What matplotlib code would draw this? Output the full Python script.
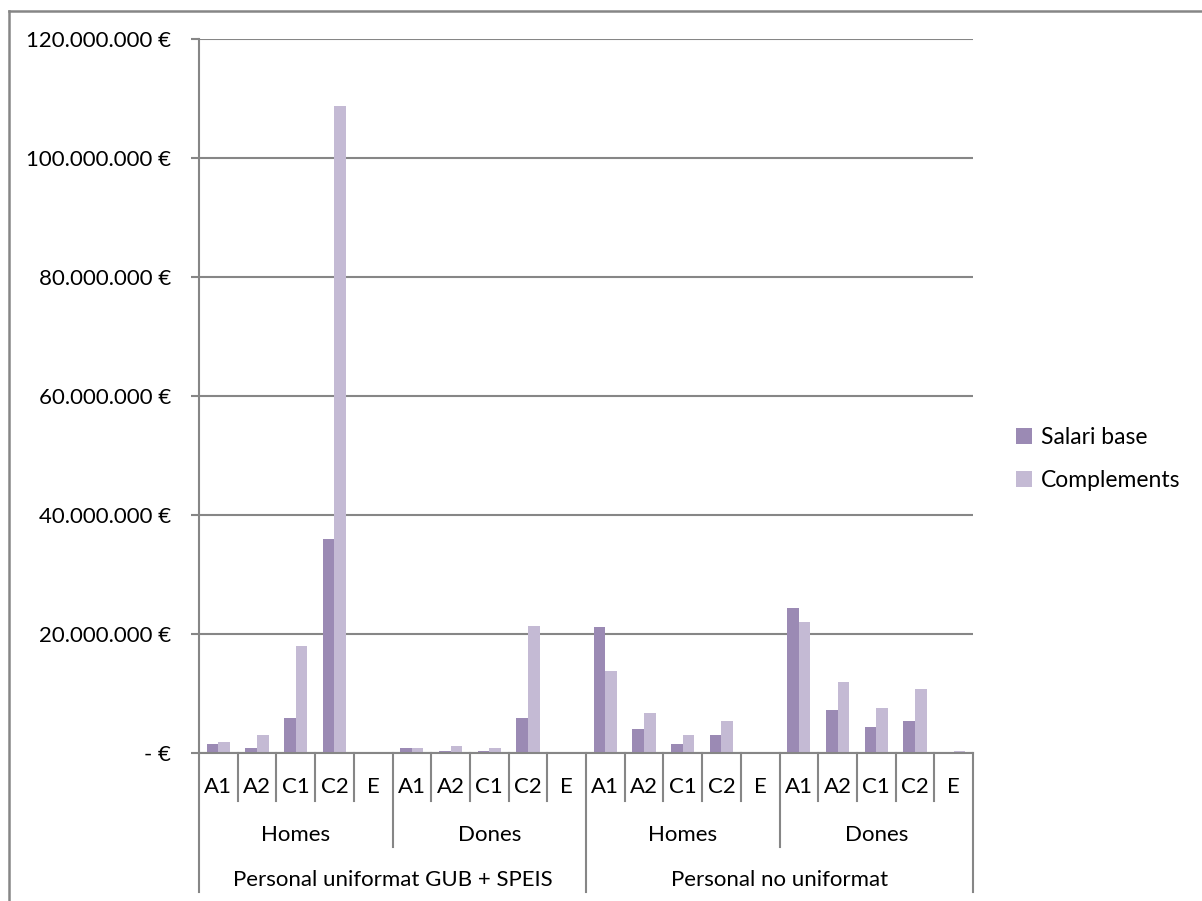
import matplotlib.pyplot as plt
from matplotlib.lines import Line2D

plt.rcParams['font.family'] = ['Lato', 'DejaVu Sans']

grups = ['Personal uniformat GUB + SPEIS', 'Personal no uniformat']
sexes = ['Homes', 'Dones']
cats = ['A1', 'A2', 'C1', 'C2', 'E']

# en milions d'euros, ordre: grup -> sexe -> categoria
salari_base = [1.55, 0.85, 5.8, 36.0, 0,
               0.8, 0.4, 0.4, 5.8, 0,
               21.2, 4.0, 1.55, 2.95, 0,
               24.4, 7.2, 4.4, 5.4, 0]
complements = [1.85, 2.95, 18.0, 108.7, 0,
               0.8, 1.2, 0.8, 21.3, 0,
               13.7, 6.8, 2.95, 5.4, 0,
               22.0, 11.9, 7.6, 10.8, 0.4]

c_base = '#9b8ab4'
c_comp = '#c4bad4'
grey = '#868686'

W, H = 1202, 901
fig = plt.figure(figsize=(W / 100, H / 100), dpi=100)
L, R, T, B = 199, 973, 39, 753
ax = fig.add_axes([L / W, 1 - B / H, (R - L) / W, (B - T) / H])

n = len(salari_base)
x = list(range(n))
bw = 0.3
ax.bar([i - bw / 2 for i in x], [v * 1e6 for v in salari_base], bw,
       color=c_base, linewidth=0, label='Salari base', zorder=3)
ax.bar([i + bw / 2 for i in x], [v * 1e6 for v in complements], bw,
       color=c_comp, linewidth=0, label='Complements', zorder=3)

ax.set_xlim(-0.5, n - 0.5)
ax.set_ylim(0, 120e6)
yt = [i * 20e6 for i in range(7)]
ax.set_yticks(yt)


def fmt(v):
    if v == 0:
        return '-\u00a0€'
    return f'{v:,.0f}'.replace(',', '.') + ' €'


fs = 16
ax.set_yticklabels([fmt(v) for v in yt], fontsize=fs)
ax.tick_params(axis='y', length=6, width=1.5, color=grey, pad=14)
ax.set_xticks([])
ax.yaxis.grid(True, color=grey, linewidth=1.5, zorder=0)
for s in ['top', 'right']:
    ax.spines[s].set_visible(False)
ax.spines['left'].set_color(grey)
ax.spines['left'].set_linewidth(1.5)
ax.spines['bottom'].set_color(grey)
ax.spines['bottom'].set_linewidth(1.5)
ax.spines['bottom'].set_zorder(4)

tr = ax.get_xaxis_transform()
ph = B - T


def ya(py):
    return -(py - B) / ph


# separadors de l'eix de categories
for k in range(n + 1):
    xb = k - 0.5
    if k % 10 == 0:
        yb = 892
    elif k % 5 == 0:
        yb = 847
    else:
        yb = 801
    ax.add_line(Line2D([xb, xb], [0, ya(yb)], transform=tr, color=grey,
                       linewidth=1.5, clip_on=False))

for i in range(n):
    ax.text(i, ya(787), cats[i % 5], transform=tr, ha='center', va='center', fontsize=fs)
for j in range(4):
    ax.text(j * 5 + 2, ya(835), sexes[j % 2], transform=tr, ha='center', va='center', fontsize=fs)
for j in range(2):
    ax.text(j * 10 + 4.5, ya(880), grups[j], transform=tr, ha='center', va='center', fontsize=fs)

leg = fig.legend(loc='center left', bbox_to_anchor=(995 / W, 1 - 459 / H), frameon=False,
                 fontsize=16.5, handlelength=0.7, handleheight=0.7, handletextpad=0.4,
                 labelspacing=1.0)

# vora del gràfic
fig.add_artist(Line2D([9 / W, 1], [1 - 11 / H, 1 - 11 / H], color=grey, linewidth=1.8))
fig.add_artist(Line2D([9 / W, 9 / W], [0, 1 - 11 / H], color=grey, linewidth=1.8))

fig.savefig('out.png', dpi=100)
